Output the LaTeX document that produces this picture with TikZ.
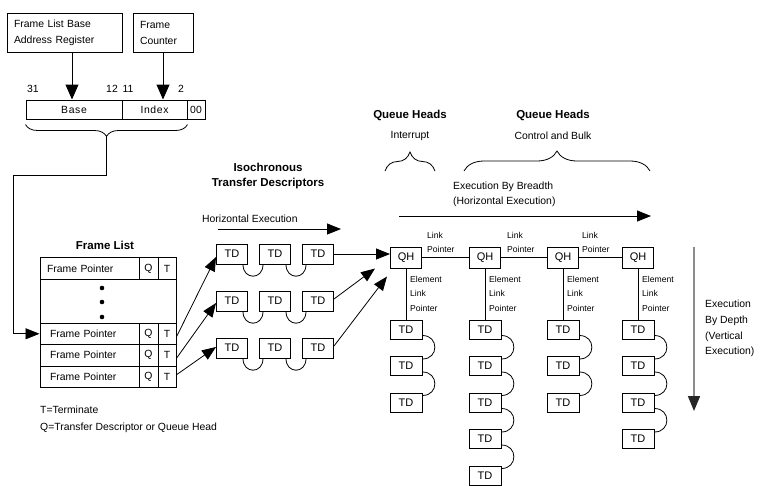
\documentclass[tikz,border=0pt]{standalone}
\usepackage{fontspec}
\setmainfont{Liberation Sans}
\usetikzlibrary{arrows.meta,decorations.pathreplacing}

\begin{document}
\begin{tikzpicture}[x=1pt,y=-1pt]
    % Styles
    \tikzstyle{fleche}=[-{Triangle[length=14pt,width=11pt]},line width=0.8pt]
    \tikzstyle{grossefleche}=[-{Triangle[length=15pt,width=13pt]},line width=1pt]
    \tikzstyle{flechegrise}=[-{Triangle[length=15pt,width=12pt,color=black!85]},line width=1.6pt,draw=black!45]
    \tikzstyle{boite}=[draw,line width=1pt,inner sep=0pt,minimum width=31pt,minimum height=20pt,font=\fontsize{11}{12}\selectfont]
    \tikzstyle{cellule}=[draw,line width=1pt,inner sep=0pt,minimum height=21.5pt,font=\fontsize{10.4}{12}\selectfont]
    \tikzstyle{texte}=[inner sep=0pt,align=left,font=\fontsize{10.4}{15.5}\selectfont]
    \tikzstyle{titre}=[inner sep=0pt,align=center,font=\fontsize{11.5}{15}\selectfont\bfseries]
    \tikzstyle{petit}=[inner sep=0pt,align=left,font=\fontsize{8.6}{14.5}\selectfont]
    \tikzstyle{lien}=[line width=0.8pt]
    \tikzstyle{accolade}=[decorate,line width=0.8pt]
    % Dimensions
    \def\PasTD{36.5}
    \def\HautTD{329.5}
    \useasboundingbox (0,0) rectangle (763,485);
    % Registres
    \node[boite,minimum width=115pt,minimum height=39pt,text width=101pt,inner xsep=7pt,align=left,font=\fontsize{10.4}{16}\selectfont] (FLBAR) at (64.5,33) {Frame List Base\\Address Register};
    \node[boite,minimum width=60pt,minimum height=39pt,text width=46pt,inner xsep=7pt,align=left,font=\fontsize{10.4}{16}\selectfont] (FC) at (163,33) {Frame\\Counter};
    \node[boite,minimum width=96pt,minimum height=19pt,font=\fontsize{10.4}{12}\selectfont\addfontfeatures{LetterSpace=6}] (Base) at (74,109.5) {Base};
    \node[boite,minimum width=65pt,minimum height=19pt,font=\fontsize{10.4}{12}\selectfont\addfontfeatures{LetterSpace=6}] (Index) at (154.5,109.5) {Index};
    \node[boite,minimum width=18pt,minimum height=19pt,font=\fontsize{10.4}{12}\selectfont] (Zero) at (196,109.5) {00};
    \node[texte] (B31) at (33,89) {31};
    \node[texte] (B12) at (112,89) {12};
    \node[texte] (B11) at (128,89) {11};
    \node[texte] (B2) at (181,89) {2};
    \draw[grossefleche] ([xshift=7.5pt]FLBAR.south) -- ([xshift=7.5pt]FLBAR.south |- Base.north);
    \draw[grossefleche] (FC.south) -- (FC.south |- Index.north);
    \draw[accolade,decoration={brace,mirror,amplitude=12pt}] ([yshift=-5pt]Base.south west) -- ([yshift=-5pt]Index.south east);
    \coordinate (pointe) at (106.5,136);
    % Frame List
    \node[titre] (FLtitre) at (105,245) {Frame List};
    \node[cellule,minimum width=99pt,text width=85pt,inner xsep=7pt,align=left] (FP1) at (89.5,268.5) {Frame Pointer};
    \node[cellule,minimum width=19pt] (Q1) at (148.5,268.5) {Q};
    \node[cellule,minimum width=18pt] (T1) at (167,268.5) {T};
    \node[cellule,minimum width=136pt,minimum height=44pt] (Vide) at (108,301) {};
    \foreach \y in {288,302,317} \fill (102,\y) circle (2.3pt);
    \foreach \i/\y in {3/333.75,4/355.25,5/376.75}{
      \node[cellule,minimum width=99pt,text width=79pt,inner xsep=10pt,align=left] (FP\i) at (89.5,\y) {Frame Pointer};
      \node[cellule,minimum width=19pt] (Q\i) at (148.5,\y) {Q};
      \node[cellule,minimum width=18pt] (T\i) at (167,\y) {T};
    }
    \draw[fleche] (pointe) -- ++(0,39) -| ([xshift=-26pt]FP3.west) -- (FP3.west);
    \node[texte,anchor=west] (Legende1) at (40,410) {T=Terminate};
    \node[texte,anchor=west] (Legende2) at (40,428) {Q=Transfer Descriptor or Queue Head};
    % Isochronous TD
    \node[titre] (Iso) at (268,176.5) {Isochronous\\Transfer Descriptors};
    \node[texte,anchor=west] (HE) at (202,219) {Horizontal Execution};
    \coordinate (HEa) at (218,229);
    \coordinate (HEb) at (341,229);
    \draw[fleche] (HEa) -- (HEb);
    \foreach \l/\y in {A/254,B/301,C/348}{
      \foreach \c/\x in {1/232,2/275,3/318}
        \node[boite] (TD\l\c) at (\x,\y) {TD};
      \draw[lien] ([xshift=-5pt]TD\l1.south east) to[out=-90,in=-90,looseness=2] ([xshift=4pt]TD\l2.south west);
      \draw[lien] ([xshift=-5pt]TD\l2.south east) to[out=-90,in=-90,looseness=2] ([xshift=4pt]TD\l3.south west);
    }
    \draw[fleche] ([yshift=-3pt]T3.east) -- ([yshift=-3pt]TDA1.west);
    \draw[fleche] ([yshift=-3pt]T4.east) -- ([yshift=-2pt]TDB1.west);
    \draw[fleche] ([yshift=2pt]T5.east) -- ([yshift=1pt]TDC1.west);
    % Queue Heads
    \node[titre] (QHI) at (410,115) {Queue Heads};
    \node[texte] (Int) at (410,136) {Interrupt};
    \node[titre] (QHC) at (553,115) {Queue Heads};
    \node[texte] (CB) at (553,136) {Control and Bulk};
    \draw[accolade,decoration={brace,amplitude=19pt}] (385,171) -- (435,171);
    \draw[accolade,decoration={brace,amplitude=20pt}] (464,171) -- (650,171);
    \node[texte,anchor=west] (EB) at (453,194.5) {Execution By Breadth\\(Horizontal Execution)};
    \coordinate (EBa) at (399,216);
    \coordinate (EBb) at (651,216);
    \draw[fleche] (EBa) -- (EBb);
    \foreach \c/\x in {1/406,2/485,3/563,4/638}
      \node[boite,minimum height=21pt] (QH\c) at (\x,257.5) {QH};
    \draw[lien] (QH1) -- (QH2);
    \draw[lien] (QH2) -- (QH3);
    \draw[lien] (QH3) -- (QH4);
    \foreach \i/\x in {1/427,2/507,3/582}
      \node[petit,anchor=west] (LP\i) at (\x,242.5) {Link\\Pointer};
    \foreach \i/\x in {1/410,2/489,3/567,4/642}
      \node[petit,anchor=west] (ELP\i) at (\x,293.5) {Element\\Link\\Pointer};
    \draw[fleche] (TDA3.east) -- ([yshift=3.5pt]QH1.west);
    \draw[fleche] ([yshift=2pt]TDB3.east) -- ([xshift=-15pt]QH1.south west);
    \draw[fleche] ([yshift=2pt]TDC3.east) -- ([xshift=-3pt,yshift=-8pt]QH1.south west);
    % Colonnes de TD
    \foreach \c/\x/\n in {1/406/3,2/485/5,3/563/3,4/638/4}{
      \foreach \k in {1,...,\n}
        \node[boite,minimum width=32pt,minimum height=19pt] (TDQ\c\k) at (\x,{\HautTD+\PasTD*(\k-1)}) {TD};
      \draw[lien] (QH\c) -- (TDQ\c1);
      \foreach \k in {2,...,\n}{
        \pgfmathtruncatemacro\p{\k-1}
        \draw[lien] ([yshift=4pt]TDQ\c\p.south east) to[out=0,in=0,looseness=1.8] ([yshift=-3pt]TDQ\c\k.north east);
      }
    }
    % Execution By Depth
    \coordinate (VDa) at (694,247);
    \coordinate (VDb) at (694,411);
    \draw[flechegrise] (VDa) -- (VDb);
    \node[texte,anchor=west,font=\fontsize{10.4}{15.7}\selectfont] (VD) at (705,328.5) {Execution\\By Depth\\(Vertical\\Execution)};
\end{tikzpicture}
\end{document}
